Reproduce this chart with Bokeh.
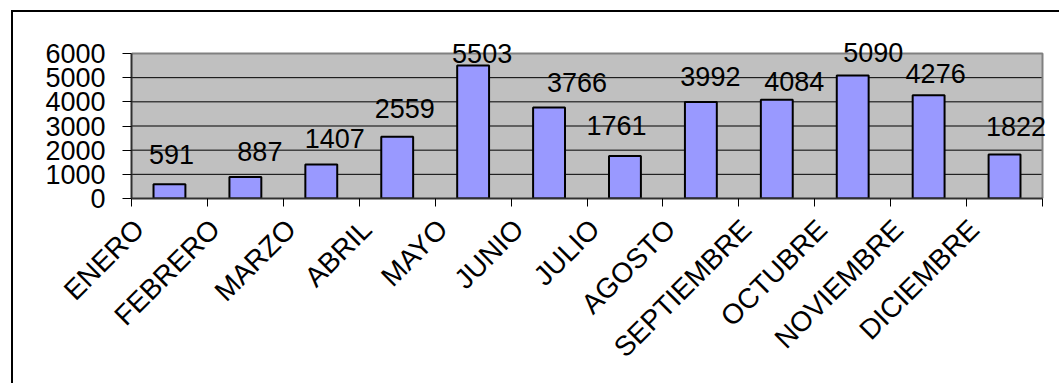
from math import pi
from bokeh.plotting import figure
from bokeh.models import (ColumnDataSource, LinearAxis, FixedTicker, Range1d, Label)
from bokeh.embed import file_html
from bokeh.resources import INLINE

# ---- data ----
months = ["ENERO", "FEBRERO", "MARZO", "ABRIL", "MAYO", "JUNIO", "JULIO",
          "AGOSTO", "SEPTIEMBRE", "OCTUBRE", "NOVIEMBRE", "DICIEMBRE"]
values = [591, 887, 1407, 2559, 5503, 3766, 1761, 3992, 4084, 5090, 4276, 1822]
y_ticks = [0, 1000, 2000, 3000, 4000, 5000, 6000]
grid_ticks = [1000, 2000, 3000, 4000, 5000]
y_max = 6000

# data-label nudges (pixels), as placed in the original chart
label_dx = [2, 14.5, 13.5, 7.5, 9, 28, -8.5, 9.5, 17.5, 20.5, 7, 11.5]
label_gap = [21, 17, 17, 19, 3, 16, 21, 17, 9, 14, 13, 19]

UNIT = 10          # width of one category in x units
LABEL_SHIFT = 4    # month labels sit left of the category centre
LABEL_LIFT = 9     # baseline correction for the data labels (px)
FONT = "Liberation Sans"
n = len(months)
x_end = n * UNIT

# the frame is extended above / right of the plot area so data labels are not clipped
FRAME_TOP, AREA_TOP, AREA_BOTTOM = 23, 53, 198
AREA_LEFT, AREA_RIGHT, FRAME_RIGHT = 131, 1042, 1055
y_top = y_max * (AREA_BOTTOM - FRAME_TOP) / (AREA_BOTTOM - AREA_TOP)
x_top = x_end * (FRAME_RIGHT - AREA_LEFT) / (AREA_RIGHT - AREA_LEFT)

x_pos = [i * UNIT + UNIT / 2 for i in range(n)]
src = ColumnDataSource(dict(x=x_pos, top=values))

p = figure(width=1059, height=383, output_backend="svg", toolbar_location=None,
           x_range=Range1d(0, x_top), y_range=Range1d(0, y_top),
           x_axis_type=None, y_axis_type=None,
           min_border_left=AREA_LEFT, min_border_right=1059 - FRAME_RIGHT,
           min_border_top=FRAME_TOP, min_border_bottom=383 - AREA_BOTTOM)
p.background_fill_color = None
p.border_fill_color = None
p.outline_line_color = None
# outer chart border: only its left and top edges fall inside the window
p.styles = {
    "background": ("linear-gradient(#000,#000) 11px 10px / 2px 600px no-repeat, "
                   "linear-gradient(#000,#000) 11px 10px / 1200px 2px no-repeat, "
                   "#ffffff")
}

# gray plot area, grid lines and outline
p.quad(left=0, right=x_end, bottom=0, top=y_max, fill_color="#C0C0C0",
       line_color=None, level="underlay")
p.segment(x0=[0] * len(grid_ticks), x1=[x_end] * len(grid_ticks),
          y0=grid_ticks, y1=grid_ticks, line_color="black", line_width=1,
          level="underlay")
p.line(x=[0, x_end, x_end], y=[y_max, y_max, 0], line_color="#808080",
       line_width=2)

# y axis
yaxis = LinearAxis(ticker=FixedTicker(ticks=y_ticks), bounds=(0, y_max),
                   axis_line_color="#303030", axis_line_width=2,
                   major_tick_out=9, major_tick_in=0, major_tick_line_color="black",
                   minor_tick_line_color=None, major_label_standoff=17,
                   major_label_text_font=FONT, major_label_text_font_size="27px",
                   major_label_text_color="black")
p.add_layout(yaxis, "left")

# x axis: ticks at category boundaries
xtick_axis = LinearAxis(ticker=FixedTicker(ticks=[i * UNIT for i in range(n + 1)]),
                        bounds=(0, x_end),
                        major_label_overrides={i * UNIT: "" for i in range(n + 1)},
                        major_label_text_font_size="1px",
                        axis_line_color="#303030", axis_line_width=2,
                        major_tick_out=8, major_tick_in=0,
                        major_tick_line_color="black", minor_tick_line_color=None,
                        major_label_standoff=0)
p.add_layout(xtick_axis, "below")

# x axis: rotated month names
label_ticks = [i * UNIT + UNIT // 2 - LABEL_SHIFT for i in range(n)]
xlab_axis = LinearAxis(ticker=FixedTicker(ticks=label_ticks),
                       major_label_overrides={t: m for t, m in zip(label_ticks, months)},
                       axis_line_color=None, major_tick_line_color=None,
                       minor_tick_line_color=None,
                       major_label_orientation=pi / 4, major_label_standoff=12,
                       major_label_text_font=FONT, major_label_text_font_size="28px",
                       major_label_text_color="black")
p.add_layout(xlab_axis, "below")

# bars
p.vbar(x="x", top="top", bottom=0, width=0.42 * UNIT, source=src,
       fill_color="#9999FF", line_color="black", line_width=2)

# data labels
for xv, v, dx, dy in zip(x_pos, values, label_dx, label_gap):
    p.add_layout(Label(x=xv, y=v, text=str(v), x_offset=dx, y_offset=dy + LABEL_LIFT,
                       text_align="center", text_baseline="alphabetic",
                       text_font=FONT, text_font_size="27px", text_color="black"))

open("out.html", "w").write(file_html(p, INLINE))
